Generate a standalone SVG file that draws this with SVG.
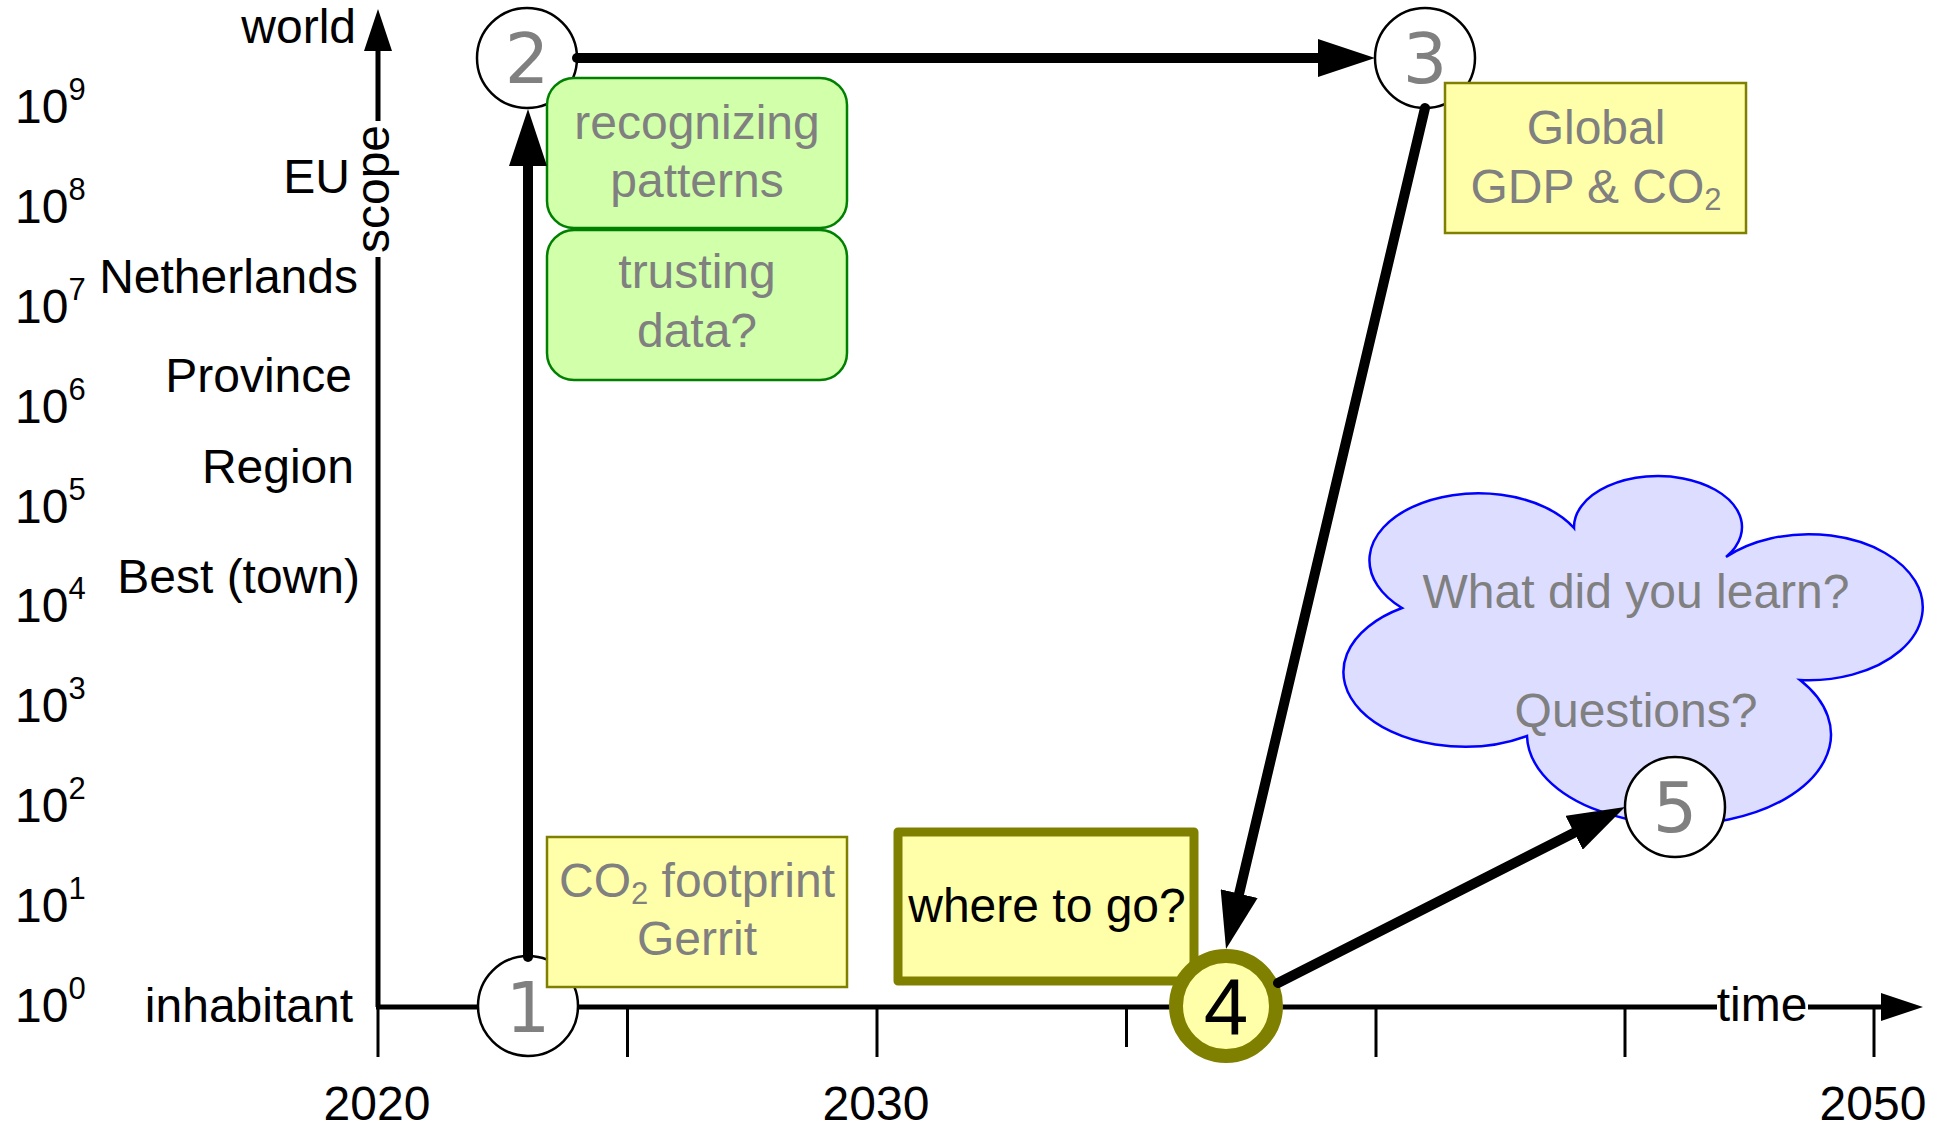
<svg xmlns="http://www.w3.org/2000/svg" width="1942" height="1128" viewBox="0 0 1942 1128">
<style>
.lbl{font-family:"Liberation Sans",Arial,sans-serif;font-size:48px;fill:#000}
.end{text-anchor:end}
.mid{text-anchor:middle}
.gt{font-family:"Liberation Sans",Arial,sans-serif;font-size:48px;fill:#808080;text-anchor:middle}
.num{font-family:"DejaVu Sans",sans-serif;font-size:70px;fill:#808080;text-anchor:middle}
.big4{font-family:"Liberation Sans",Arial,sans-serif;font-size:80px;fill:#000;text-anchor:middle}
.node{fill:#fff;stroke:#000;stroke-width:2.5}
.yel{fill:#ffffaa;stroke:#808000;stroke-width:2.5}
.grn{fill:#d2ffaa;stroke:#008000;stroke-width:2.5}
.axis{stroke:#000;stroke-width:5;fill:none}
.tick{stroke:#000;stroke-width:3}
.conn{stroke:#000;stroke-width:10;fill:none;stroke-linecap:round}
</style>
<defs>
<marker id="ah" markerUnits="userSpaceOnUse" viewBox="0 0 57 38" markerWidth="57" markerHeight="38" refX="5" refY="19" orient="auto"><path d="M0,0 L57,19 L0,38 z" fill="#000"/></marker>
<marker id="axh" markerUnits="userSpaceOnUse" viewBox="0 0 42 28" markerWidth="42" markerHeight="28" refX="2" refY="14" orient="auto"><path d="M0,0 L42,14 L0,28 z" fill="#000"/></marker>
</defs>
<rect width="1942" height="1128" fill="#fff"/>
<g id="axes">
<path class="axis" d="M378,1007 V49" marker-end="url(#axh)"/>
<path class="axis" d="M376,1007 H1883" marker-end="url(#axh)"/>
<line class="tick" x1="378" y1="1007" x2="378" y2="1057"/>
<line class="tick" x1="627.5" y1="1007" x2="627.5" y2="1057"/>
<line class="tick" x1="877" y1="1007" x2="877" y2="1057"/>
<line class="tick" x1="1126.5" y1="1007" x2="1126.5" y2="1047"/>
<line class="tick" x1="1376" y1="1007" x2="1376" y2="1057"/>
<line class="tick" x1="1625" y1="1007" x2="1625" y2="1057"/>
<line class="tick" x1="1874" y1="1007" x2="1874" y2="1057"/>
<rect x="370" y="121" width="16" height="136" fill="#fff"/>
<text class="lbl mid" transform="translate(389,189) rotate(-90)">scope</text>
<rect x="1717" y="1002" width="91" height="10" fill="#fff"/>
<text class="lbl mid" x="1762" y="1021">time</text>
<text class="lbl mid" x="377" y="1120">2020</text>
<text class="lbl mid" x="876" y="1120">2030</text>
<text class="lbl mid" x="1873" y="1120">2050</text>
<text class="lbl end" x="356" y="43">world</text>
<text class="lbl end" x="350" y="193">EU</text>
<text class="lbl end" x="358" y="293">Netherlands</text>
<text class="lbl end" x="352" y="392">Province</text>
<text class="lbl end" x="354" y="483">Region</text>
<text class="lbl end" x="360" y="593">Best (town)</text>
<text class="lbl end" x="353" y="1022">inhabitant</text>
<text class="lbl" x="15" y="123">10<tspan font-size="31" dy="-23">9</tspan></text>
<text class="lbl" x="15" y="223">10<tspan font-size="31" dy="-23">8</tspan></text>
<text class="lbl" x="15" y="323">10<tspan font-size="31" dy="-23">7</tspan></text>
<text class="lbl" x="15" y="423">10<tspan font-size="31" dy="-23">6</tspan></text>
<text class="lbl" x="15" y="523">10<tspan font-size="31" dy="-23">5</tspan></text>
<text class="lbl" x="15" y="622">10<tspan font-size="31" dy="-23">4</tspan></text>
<text class="lbl" x="15" y="722">10<tspan font-size="31" dy="-23">3</tspan></text>
<text class="lbl" x="15" y="822">10<tspan font-size="31" dy="-23">2</tspan></text>
<text class="lbl" x="15" y="922">10<tspan font-size="31" dy="-23">1</tspan></text>
<text class="lbl" x="15" y="1022">10<tspan font-size="31" dy="-23">0</tspan></text>
</g>
<g id="cloud">
<path d="M1402,608 A109,67 0 1 1 1574,528 A84,51 0 1 1 1726,557 A114,73 0 1 1 1800,680 A152,90 0 1 1 1527,736 A120,74 0 0 1 1402,608 Z" fill="#ddddff" stroke="#0000ff" stroke-width="2.5"/>
<text class="gt" x="1636" y="608">What did you learn?</text>
<text class="gt" x="1636" y="727">Questions?</text>
</g>
<g id="node1"><circle class="node" cx="528" cy="1006" r="50"/><text class="num" x="528" y="1032">1</text></g>
<g id="node2"><circle class="node" cx="527" cy="58" r="50"/><text class="num" x="527" y="83">2</text></g>
<g id="node3"><circle class="node" cx="1425" cy="58" r="50"/><text class="num" x="1425" y="83">3</text></g>
<g id="box-patterns"><rect class="grn" x="547" y="78" width="300" height="150" rx="27"/><text class="gt" x="697" y="139">recognizing</text><text class="gt" x="697" y="197">patterns</text></g>
<g id="box-trust"><rect class="grn" x="547" y="230" width="300" height="150" rx="27"/><text class="gt" x="697" y="288">trusting</text><text class="gt" x="697" y="347">data?</text></g>
<g id="box-co2"><rect class="yel" x="547" y="837" width="300" height="150"/><text class="gt" x="697" y="897">CO<tspan font-size="31" dy="7">2</tspan><tspan dy="-7"> footprint</tspan></text><text class="gt" x="697" y="955">Gerrit</text></g>
<g id="box-global"><rect class="yel" x="1445" y="83" width="301" height="150"/><text class="gt" x="1596" y="144">Global</text><text class="gt" x="1596" y="203">GDP &amp; CO<tspan font-size="31" dy="7">2</tspan></text></g>
<g id="box-where"><rect x="898" y="832" width="296" height="149" fill="#ffffaa" stroke="#808000" stroke-width="9" stroke-linejoin="round"/><text class="lbl mid" x="1047" y="922">where to go?</text></g>
<g id="node4"><circle cx="1226" cy="1006" r="50" fill="#ffffaa" stroke="#808000" stroke-width="14"/><text class="big4" x="1226" y="1034">4</text></g>
<g id="node5"><circle class="node" cx="1675" cy="807" r="50"/><text class="num" x="1675" y="832">5</text></g>
<g id="connectors">
<path class="conn" d="M528,957 L528,161" marker-end="url(#ah)"/>
<path class="conn" d="M577,58 L1323,58" marker-end="url(#ah)"/>
<path class="conn" d="M1425,108 L1238,898.4" marker-end="url(#ah)"/>
<path class="conn" d="M1278,983 L1578.6,830.5" marker-end="url(#ah)"/>
</g>
</svg>
